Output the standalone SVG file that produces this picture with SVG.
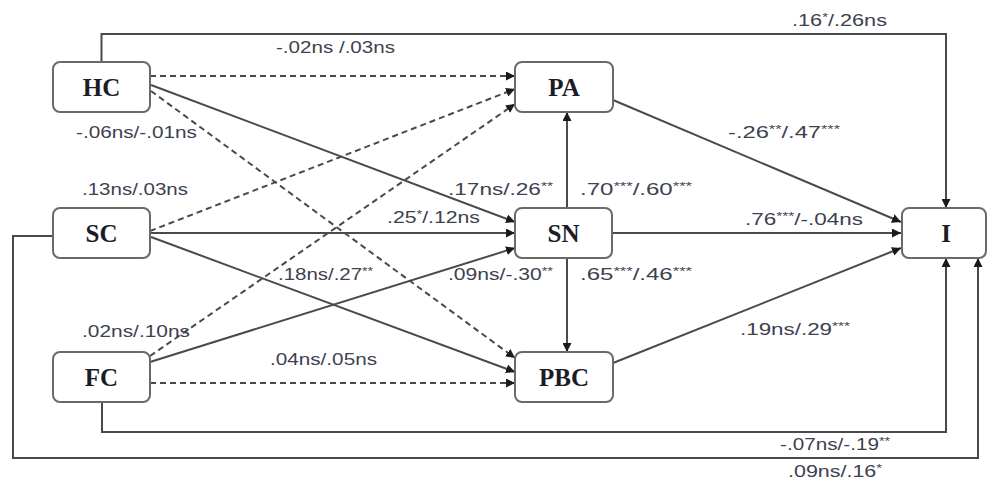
<svg xmlns="http://www.w3.org/2000/svg" width="989" height="482" viewBox="0 0 989 482">
  <style>
    .box { fill: #ffffff; stroke: #6a6a6a; stroke-width: 2; }
    .name { font-family: "Liberation Serif", "Times New Roman", serif; font-weight: bold; font-size: 25px; fill: #1c1c28; text-anchor: middle; }
    .ln { fill: none; stroke: #4a4a4a; stroke-width: 2; }
    .dash { stroke-dasharray: 6 4; }
    .lab { font-family: "Liberation Sans", Arial, sans-serif; font-size: 16px; fill: #3e4150; }
    .sup { font-size: 11px; }
  </style>
  <defs>
    <marker id="arr" viewBox="0 0 10 10" refX="10" refY="5" markerWidth="9" markerHeight="9" markerUnits="userSpaceOnUse" orient="auto">
      <path d="M0,0 L10,5 L0,10 z" fill="#1a1a1a"/>
    </marker>
  </defs>

  <!-- connectors -->
  <g id="connectors">
    <path class="ln dash" d="M150,76 L515,76" marker-end="url(#arr)"/>
    <path class="ln dash" d="M150,231 L515,89" marker-end="url(#arr)"/>
    <path class="ln dash" d="M150,356 L515,104" marker-end="url(#arr)"/>
    <path class="ln" d="M151,85 L515,222" marker-end="url(#arr)"/>
    <path class="ln" d="M150,233 L515,233" marker-end="url(#arr)"/>
    <path class="ln" d="M150,362 L515,248" marker-end="url(#arr)"/>
    <path class="ln dash" d="M151,91 L515,358" marker-end="url(#arr)"/>
    <path class="ln" d="M151,237 L515,372" marker-end="url(#arr)"/>
    <path class="ln dash" d="M150,383 L515,383" marker-end="url(#arr)"/>
    <path class="ln" d="M567,208 L567,112" marker-end="url(#arr)"/>
    <path class="ln" d="M567,258 L567,352" marker-end="url(#arr)"/>
    <path class="ln" d="M613,100 L901,222" marker-end="url(#arr)"/>
    <path class="ln" d="M612,233 L901,233" marker-end="url(#arr)"/>
    <path class="ln" d="M613,363 L901,248" marker-end="url(#arr)"/>
    <path class="ln" d="M101.5,62 V34 H946 V208" marker-end="url(#arr)"/>
    <path class="ln" d="M102,402 V432 H946 V258" marker-end="url(#arr)"/>
    <path class="ln" d="M53,236 H13 V458 H978 V258" marker-end="url(#arr)"/>
  </g>

  <!-- path coefficients -->
  <g id="labels">
    <text class="lab" x="792" y="26" textLength="95" lengthAdjust="spacingAndGlyphs">.16<tspan class="sup" dy="-5">*</tspan><tspan dy="5">/.26ns</tspan></text>
    <text class="lab" x="276" y="53" textLength="119" lengthAdjust="spacingAndGlyphs">-.02ns /.03ns</text>
    <text class="lab" x="76" y="138" textLength="121" lengthAdjust="spacingAndGlyphs">-.06ns/-.01ns</text>
    <text class="lab" x="728" y="138" textLength="112" lengthAdjust="spacingAndGlyphs">-.26<tspan class="sup" dy="-5">**</tspan><tspan dy="5">/.47</tspan><tspan class="sup" dy="-5">***</tspan></text>
    <text class="lab" x="82" y="195" textLength="106" lengthAdjust="spacingAndGlyphs">.13ns/.03ns</text>
    <text class="lab" x="448" y="195" textLength="105" lengthAdjust="spacingAndGlyphs">.17ns/.26<tspan class="sup" dy="-5">**</tspan></text>
    <text class="lab" x="580" y="195" textLength="112" lengthAdjust="spacingAndGlyphs">.70<tspan class="sup" dy="-5">***</tspan><tspan dy="5">/.60</tspan><tspan class="sup" dy="-5">***</tspan></text>
    <text class="lab" x="387" y="223" textLength="93" lengthAdjust="spacingAndGlyphs">.25<tspan class="sup" dy="-5">*</tspan><tspan dy="5">/.12ns</tspan></text>
    <text class="lab" x="745" y="225" textLength="118" lengthAdjust="spacingAndGlyphs">.76<tspan class="sup" dy="-5">***</tspan><tspan dy="5">/-.04ns</tspan></text>
    <text class="lab" x="278" y="280" textLength="95" lengthAdjust="spacingAndGlyphs">.18ns/.27<tspan class="sup" dy="-5">**</tspan></text>
    <text class="lab" x="448" y="280" textLength="105" lengthAdjust="spacingAndGlyphs">.09ns/-.30<tspan class="sup" dy="-5">**</tspan></text>
    <text class="lab" x="580" y="280" textLength="112" lengthAdjust="spacingAndGlyphs">.65<tspan class="sup" dy="-5">***</tspan><tspan dy="5">/.46</tspan><tspan class="sup" dy="-5">***</tspan></text>
    <text class="lab" x="82" y="337" textLength="108" lengthAdjust="spacingAndGlyphs">.02ns/.10ns</text>
    <text class="lab" x="740" y="335" textLength="110" lengthAdjust="spacingAndGlyphs">.19ns/.29<tspan class="sup" dy="-5">***</tspan></text>
    <text class="lab" x="270" y="365" textLength="107" lengthAdjust="spacingAndGlyphs">.04ns/.05ns</text>
    <text class="lab" x="780" y="450" textLength="110" lengthAdjust="spacingAndGlyphs">-.07ns/-.19<tspan class="sup" dy="-5">**</tspan></text>
    <text class="lab" x="788" y="477" textLength="94" lengthAdjust="spacingAndGlyphs">.09ns/.16<tspan class="sup" dy="-5">*</tspan></text>
  </g>

  <!-- constructs -->
  <g id="HC"><rect class="box" x="53" y="62" width="97" height="50" rx="7"/><text class="name" x="101.5" y="95.5">HC</text></g>
  <g id="SC"><rect class="box" x="53" y="208" width="97" height="50" rx="7"/><text class="name" x="101.5" y="241.5">SC</text></g>
  <g id="FC"><rect class="box" x="53" y="352" width="97" height="50" rx="7"/><text class="name" x="101.5" y="385.5">FC</text></g>
  <g id="PA"><rect class="box" x="515" y="62" width="98" height="50" rx="7"/><text class="name" x="564" y="95.5">PA</text></g>
  <g id="SN"><rect class="box" x="515" y="208" width="97" height="50" rx="7"/><text class="name" x="563.5" y="241.5">SN</text></g>
  <g id="PBC"><rect class="box" x="515" y="352" width="98" height="50" rx="7"/><text class="name" x="564" y="385.5">PBC</text></g>
  <g id="I"><rect class="box" x="902" y="208" width="84" height="50" rx="7"/><text class="name" x="946" y="241.5">I</text></g>
</svg>
